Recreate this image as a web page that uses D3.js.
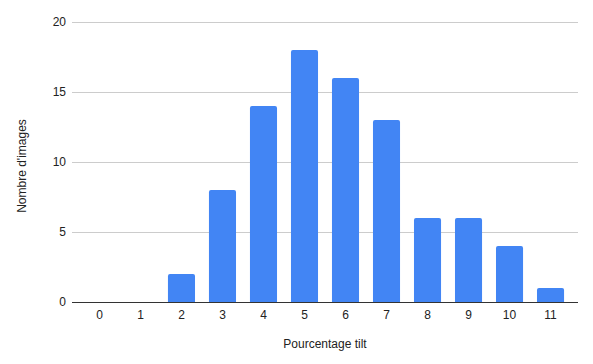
<!DOCTYPE html>
<html>
<head>
<meta charset="utf-8">
<script src="https://cdn.jsdelivr.net/npm/d3@7"></script>
<style>
  body { margin: 0; background: #fff; }
  text { font-family: "Liberation Sans", Arial, sans-serif; }
</style>
</head>
<body>
<svg></svg>
<script>
var categories = ['0', '1', '2', '3', '4', '5', '6', '7', '8', '9', '10', '11'];
var counts = [0, 0, 2, 8, 14, 18, 16, 13, 6, 6, 4, 1];
var yTicks = [0, 5, 10, 15, 20];

document.addEventListener('DOMContentLoaded', function() {
  var width = 593;
  var height = 364;
  var margin = { top: 22, right: 15, bottom: 62, left: 72 };
  var svg = d3.select('svg')
                .attr('width', width)
                .attr('height', height);

  var data = categories.map((c, i) => ({ cat: c, value: counts[i] }));

  var x = d3.scaleBand()
    .domain(categories)
    .range([margin.left, width - margin.right])
    .padding(0.34);

  var y = d3.scaleLinear()
    .domain([0, 20])
    .range([height - margin.bottom, margin.top]);

  // gridlines + y labels
  svg.append('g')
    .selectAll('line')
    .data(yTicks.filter(t => t > 0))
    .enter()
    .append('line')
      .attr('x1', margin.left)
      .attr('x2', width - margin.right)
      .attr('y1', d => Math.round(y(d)) + 0.5)
      .attr('y2', d => Math.round(y(d)) + 0.5)
      .attr('stroke', '#cccccc');

  svg.append('g')
    .selectAll('text')
    .data(yTicks)
    .enter()
    .append('text')
      .attr('x', margin.left - 6)
      .attr('y', d => y(d) + 4)
      .attr('text-anchor', 'end')
      .attr('font-size', 12)
      .attr('fill', '#222')
      .text(d => d);

  // bars with rounded tops
  var r = 2;
  svg.append('g')
    .selectAll('path')
    .data(data.filter(d => d.value > 0))
    .enter()
    .append('path')
      .attr('fill', '#4285f4')
      .attr('d', function(d) {
        var x0 = x(d.cat), w = x.bandwidth();
        var y0 = y(d.value), yb = y(0);
        return `M${x0},${yb} V${y0 + r} Q${x0},${y0} ${x0 + r},${y0} H${x0 + w - r} Q${x0 + w},${y0} ${x0 + w},${y0 + r} V${yb} Z`;
      });

  // baseline
  svg.append('line')
    .attr('x1', margin.left)
    .attr('x2', width - margin.right)
    .attr('y1', Math.round(y(0)) + 0.5)
    .attr('y2', Math.round(y(0)) + 0.5)
    .attr('stroke', '#333333');

  // x labels
  svg.append('g')
    .selectAll('text')
    .data(categories)
    .enter()
    .append('text')
      .attr('x', d => x(d) + x.bandwidth() / 2)
      .attr('y', y(0) + 17)
      .attr('text-anchor', 'middle')
      .attr('font-size', 12)
      .attr('fill', '#222')
      .text(d => d);

  // axis titles
  svg.append('text')
    .attr('x', (margin.left + width - margin.right) / 2)
    .attr('y', 348)
    .attr('text-anchor', 'middle')
    .attr('font-size', 12)
    .attr('fill', '#222')
    .text('Pourcentage tilt');

  svg.append('text')
    .attr('transform', 'translate(26, 166) rotate(-90)')
    .attr('text-anchor', 'middle')
    .attr('font-size', 12)
    .attr('fill', '#222')
    .text("Nombre d'images");
});
</script>
</body>
</html>
